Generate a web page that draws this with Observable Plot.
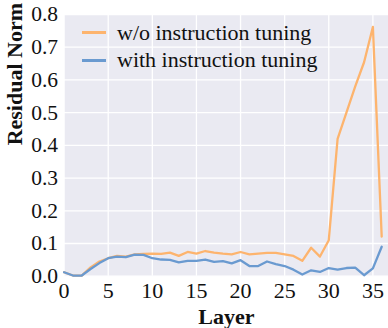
<!DOCTYPE html>
<html>
<head>
<meta charset="utf-8">
<script src="https://cdn.jsdelivr.net/npm/d3@7"></script>
<script src="https://cdn.jsdelivr.net/npm/@observablehq/plot@0.6"></script>
<style>
  body { margin: 0; background: #fff; }
  #wrap { position: relative; width: 388px; height: 328px; font-family: 'Liberation Serif', 'Times New Roman', serif; }
  #wrap svg, #wrap svg text, #wrap svg g { font-family: 'Liberation Serif', 'Times New Roman', serif !important; }
  #legend { position: absolute; left: 82px; top: 19px; font-size: 22px; color: #111; }
  #legend .row { display: flex; align-items: center; height: 27.5px; }
  #legend .sw { width: 24px; height: 0; border-top: 3px solid; margin-right: 11px; }
</style>
</head>
<body>
<div id="wrap"></div>
<script>
const layers = d3.range(0, 37);
const seriesNames = ["w/o instruction tuning", "with instruction tuning"];
const seriesColors = ["#FDB46E", "#6A9AD0"];
const woTuning = [0.012, 0.002, 0.002, 0.027, 0.045, 0.055, 0.062, 0.060, 0.067, 0.068,
  0.069, 0.068, 0.072, 0.062, 0.074, 0.069, 0.077, 0.072, 0.069, 0.067,
  0.074, 0.067, 0.069, 0.071, 0.071, 0.067, 0.062, 0.047, 0.087, 0.060,
  0.110, 0.420, 0.500, 0.580, 0.654, 0.762, 0.121];
const withTuning = [0.012, 0.002, 0.002, 0.022, 0.040, 0.055, 0.060, 0.058, 0.066, 0.065,
  0.055, 0.051, 0.050, 0.042, 0.047, 0.047, 0.051, 0.044, 0.046, 0.039,
  0.049, 0.031, 0.031, 0.045, 0.037, 0.031, 0.020, 0.005, 0.018, 0.013,
  0.025, 0.020, 0.025, 0.026, 0.003, 0.024, 0.090];
const xTicks = [0, 5, 10, 15, 20, 25, 30, 35];
const yTicks = [0, 0.1, 0.2, 0.3, 0.4, 0.5, 0.6, 0.7, 0.8];

const data = [];
layers.forEach((l, i) => {
  data.push({layer: l, value: woTuning[i], series: seriesNames[0]});
  data.push({layer: l, value: withTuning[i], series: seriesNames[1]});
});

const chart = Plot.plot({
  width: 388,
  height: 328,
  marginLeft: 63.6,
  marginRight: 0,
  marginTop: 14,
  marginBottom: 52.3,
  style: {fontSize: "21px", color: "#111", background: "#fff"},
  x: {domain: [0, 36.77], ticks: xTicks},
  y: {domain: [0, 0.8], ticks: yTicks},
  color: {domain: seriesNames, range: seriesColors},
  marks: [
    Plot.frame({fill: "#EAEAF2", stroke: null}),
    Plot.gridX(xTicks, {stroke: "#fff", strokeOpacity: 1, strokeWidth: 1.3}),
    Plot.gridY(yTicks, {stroke: "#fff", strokeOpacity: 1, strokeWidth: 1.3}),
    Plot.axisX(xTicks, {tickSize: 0, tickPadding: 6, fontSize: 22, label: null}),
    Plot.axisY(yTicks, {tickSize: 0, tickPadding: 6, fontSize: 21.5, tickFormat: d3.format(".1f"), label: null}),
    Plot.line(data, {x: "layer", y: "value", stroke: "series", z: "series", strokeWidth: 2.3, curve: "linear"}),
    Plot.text(["Layer"], {frameAnchor: "bottom", dy: 41, fontSize: 22, fontWeight: "bold", lineAnchor: "middle"}),
    Plot.text(["Residual Norm"], {frameAnchor: "left", dx: -49, rotate: -90, fontSize: 22, fontWeight: "bold", lineAnchor: "middle"})
  ]
});

const wrap = document.getElementById("wrap");
wrap.appendChild(chart);
const legend = document.createElement("div");
legend.id = "legend";
seriesNames.forEach((name, i) => {
  const row = document.createElement("div");
  row.className = "row";
  const sw = document.createElement("span");
  sw.className = "sw";
  sw.style.borderColor = seriesColors[i];
  const t = document.createElement("span");
  t.textContent = name;
  row.appendChild(sw);
  row.appendChild(t);
  legend.appendChild(row);
});
wrap.appendChild(legend);
</script>
</body>
</html>
